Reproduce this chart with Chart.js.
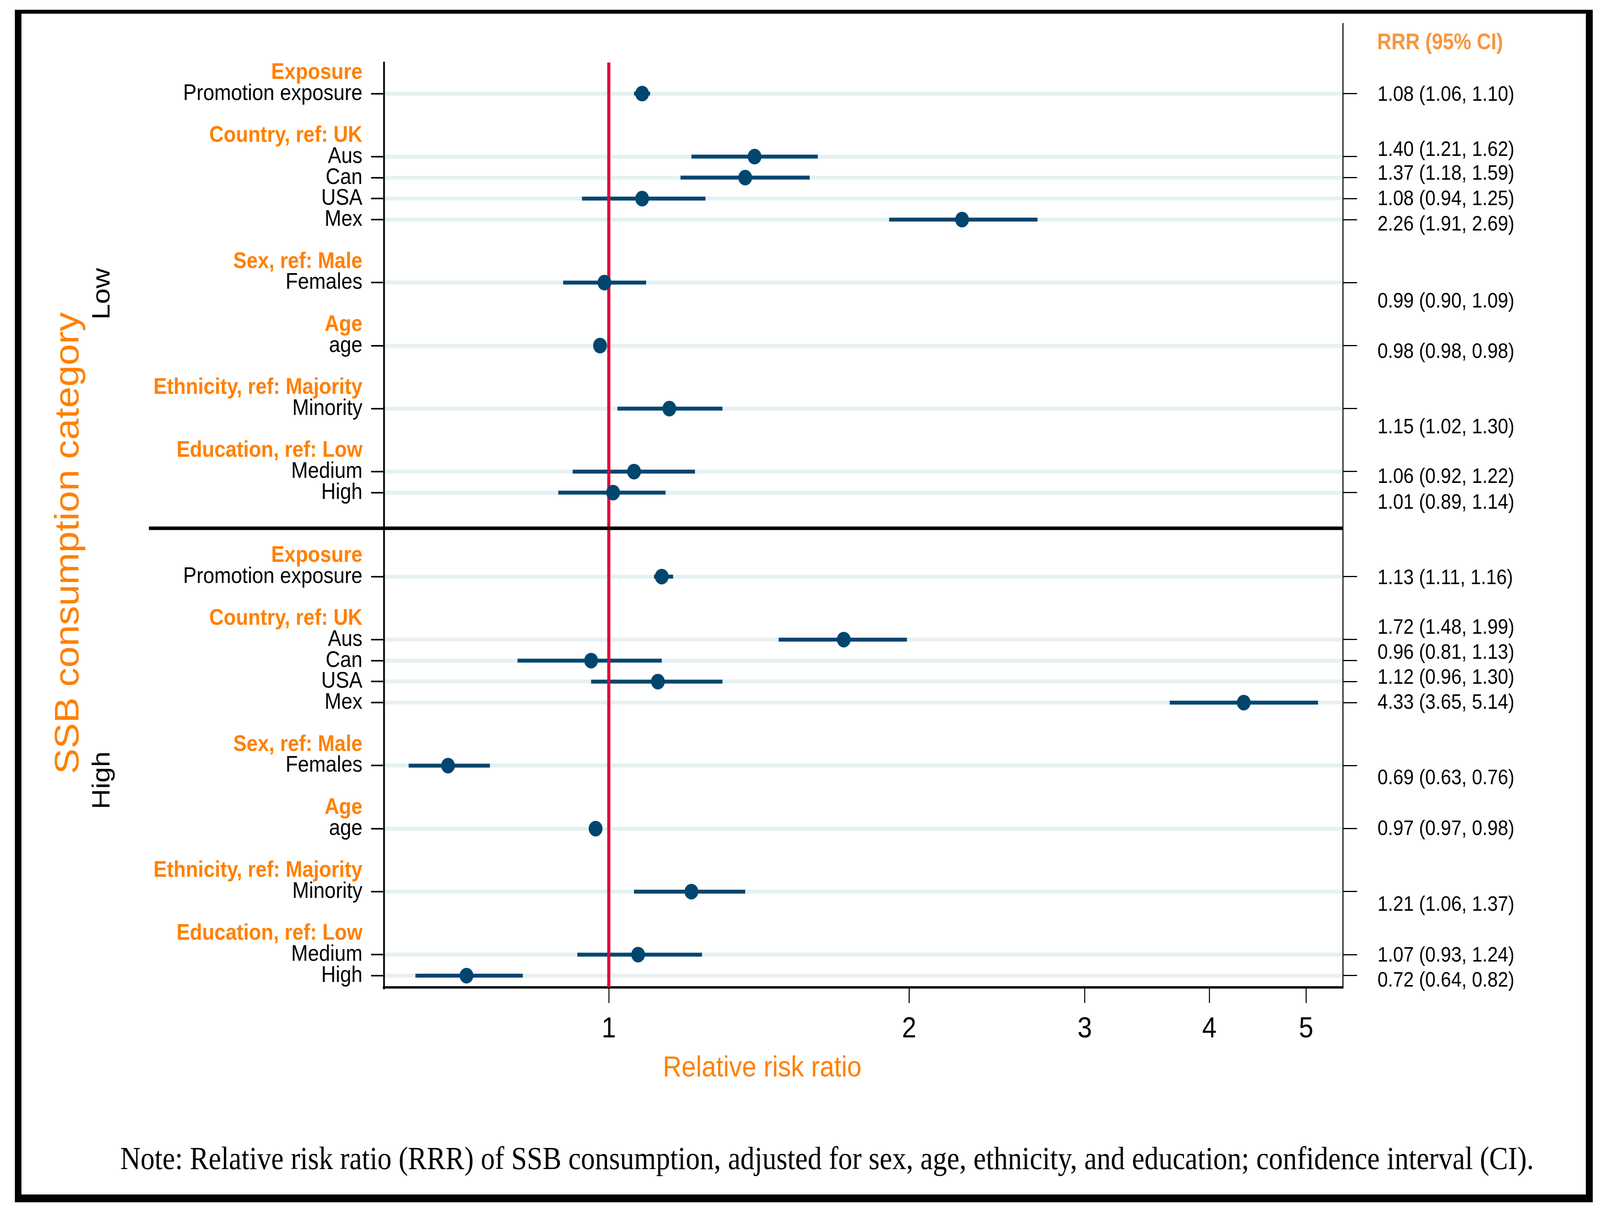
<!DOCTYPE html>
<html>
<head>
<meta charset="utf-8">
<script src="https://cdn.jsdelivr.net/npm/chart.js@4.4.0/dist/chart.umd.min.js"></script>
<style>
  html, body { margin: 0; padding: 0; background: #fff; overflow: hidden; }
  canvas { display: block; width: 100vw !important; height: 100vh !important; }
</style>
</head>
<body>
<canvas id="forest" width="4631" height="3107"></canvas>
<script>
// Variable groups and terms, in plotting order
const groups = ['Exposure', 'Country, ref: UK', 'Sex, ref: Male', 'Age', 'Ethnicity, ref: Majority', 'Education, ref: Low']
const terms = ['Promotion exposure', 'Aus', 'Can', 'USA', 'Mex', 'Females', 'age', 'Minority', 'Medium', 'High']
const termGroup = [0, 1, 1, 1, 1, 2, 3, 4, 5, 5]
const panels = ['Low', 'High']

// RRR and 95% CI, low then high SSB consumption
const lowRRR = [1.08, 1.40, 1.37, 1.08, 2.26, 0.99, 0.98, 1.15, 1.06, 1.01]
const lowLower = [1.06, 1.21, 1.18, 0.94, 1.91, 0.90, 0.98, 1.02, 0.92, 0.89]
const lowUpper = [1.10, 1.62, 1.59, 1.25, 2.69, 1.09, 0.98, 1.30, 1.22, 1.14]
const highRRR = [1.13, 1.72, 0.96, 1.12, 4.33, 0.69, 0.97, 1.21, 1.07, 0.72]
const highLower = [1.11, 1.48, 0.81, 0.96, 3.65, 0.63, 0.97, 1.06, 0.93, 0.64]
const highUpper = [1.16, 1.99, 1.13, 1.30, 5.14, 0.76, 0.98, 1.37, 1.24, 0.82]

const xTicks = [1, 2, 3, 4, 5]

// where the RRR (CI) text sits, relative to its row (as in the original)
const ciTextShift = [0.07, -0.31, -0.18, 0.03, 0.24, 0.9, 0.3, 0.9, 0.26, 0.49,
  0.08, -0.56, -0.37, -0.17, 0.02, 0.6, 0.03, 0.63, 0.05, 0.24]

const NAVY = '#00466F'
const ORANGE = '#FF8000'
const RED = '#E2003C'
const GRID = '#E6F1F1'

// Build row positions: header, terms, blank line; two blank lines between panels
const rowLabels = {}
const estRows = []
let r = 0
panels.forEach(function () {
  groups.forEach(function (g, gi) {
    rowLabels[r] = { text: g, header: true }
    r++
    terms.forEach(function (t, ti) {
      if (termGroup[ti] === gi) {
        rowLabels[r] = { text: t, header: false }
        estRows.push(r)
        r++
      }
    })
    r++
  })
  r++
})
const allRows = Object.keys(rowLabels).map(Number)
const dividerRow = 21.7
const yMin = -0.48
const yMax = 43.56

const est = lowRRR.concat(highRRR)
const lower = lowLower.concat(highLower)
const upper = lowUpper.concat(highUpper)

function isHeader (c) {
  if (!c || !c.tick) return false
  const lab = rowLabels[c.tick.value]
  return !!(lab && lab.header)
}

const datasets = [{
  type: 'scatter',
  label: 'RRR',
  data: est.map(function (v, i) { return { x: v, y: estRows[i] } }),
  pointRadius: 20,
  pointHoverRadius: 20,
  pointBackgroundColor: NAVY,
  pointBorderWidth: 0,
  order: 1
}]
est.forEach(function (v, i) {
  datasets.push({
    type: 'line',
    data: [{ x: lower[i], y: estRows[i] }, { x: upper[i], y: estRows[i] }],
    borderColor: NAVY,
    borderWidth: 10,
    borderCapStyle: 'butt',
    pointRadius: 0,
    fill: false,
    order: 2
  })
})

function rotatedText (ctx, text, x, y, font, color) {
  ctx.save()
  ctx.translate(x, y)
  ctx.rotate(-Math.PI / 2)
  ctx.font = font
  ctx.fillStyle = color
  ctx.textAlign = 'center'
  ctx.textBaseline = 'alphabetic'
  ctx.fillText(text, 0, 0)
  ctx.restore()
}

const decor = {
  id: 'decor',
  beforeDraw (chart) {
    const ctx = chart.ctx
    ctx.save()
    ctx.fillStyle = '#fff'
    ctx.fillRect(0, 0, chart.width, chart.height)
    ctx.restore()
  },
  beforeDatasetDraw (chart, args) {
    // reference line at RRR = 1, under the markers
    if (args.index !== 0) return
    const ctx = chart.ctx
    const a = chart.chartArea
    const x = chart.scales.x.getPixelForValue(1)
    ctx.save()
    ctx.strokeStyle = RED
    ctx.lineWidth = 9
    ctx.beginPath()
    ctx.moveTo(x, a.top)
    ctx.lineTo(x, a.bottom)
    ctx.stroke()
    ctx.restore()
  },
  afterDraw (chart) {
    const ctx = chart.ctx
    const a = chart.chartArea
    const y = chart.scales.y
    ctx.save()

    // divider between panels
    ctx.strokeStyle = '#000'
    ctx.lineWidth = 9
    ctx.beginPath()
    ctx.moveTo(431, y.getPixelForValue(dividerRow))
    ctx.lineTo(a.right, y.getPixelForValue(dividerRow))
    ctx.stroke()

    // right axis line
    ctx.lineWidth = 3
    ctx.beginPath()
    ctx.moveTo(a.right + 1, 59)
    ctx.lineTo(a.right + 1, a.bottom + 3)
    ctx.stroke()

    // RRR (95% CI) column
    ctx.textAlign = 'left'
    ctx.textBaseline = 'middle'
    ctx.fillStyle = '#F7963F'
    ctx.font = 'bold 57px "Liberation Sans", Arial, sans-serif'
    ctx.fillText('RRR (95% CI)', 3986, 110)
    ctx.fillStyle = '#000'
    ctx.font = '54px "Liberation Sans", Arial, sans-serif'
    est.forEach(function (v, i) {
      const txt = v.toFixed(2) + ' (' + lower[i].toFixed(2) + ', ' + upper[i].toFixed(2) + ')'
      ctx.fillText(txt, 3987, y.getPixelForValue(estRows[i] + ciTextShift[i]))
    })

    // vertical titles
    rotatedText(ctx, 'SSB consumption category', 227, 1390, '98px "Liberation Sans", Arial, sans-serif', ORANGE)
    rotatedText(ctx, panels[0], 317, 752, '72px "Liberation Sans", Arial, sans-serif', '#000')
    rotatedText(ctx, panels[1], 317, 1997, '72px "Liberation Sans", Arial, sans-serif', '#000')

    // x axis title
    ctx.textAlign = 'center'
    ctx.textBaseline = 'alphabetic'
    ctx.fillStyle = ORANGE
    ctx.font = '75px "Liberation Sans", Arial, sans-serif'
    ctx.fillText('Relative risk ratio', 2206, 2755)

    // note, sized to the original width
    const note = 'Note: Relative risk ratio (RRR) of SSB consumption, adjusted for sex, age, ethnicity, and education; confidence interval (CI).'
    ctx.font = '80px "Liberation Serif", "Times New Roman", serif'
    const size = 80 * 4091 / ctx.measureText(note).width
    ctx.font = size.toFixed(1) + 'px "Liberation Serif", "Times New Roman", serif'
    ctx.textAlign = 'left'
    ctx.fillStyle = '#000'
    ctx.fillText(note, 348, 2992)

    // frame
    ctx.fillStyle = '#000'
    ctx.fillRect(43, 25, 19, 3052)
    ctx.fillRect(43, 25, 4567, 10)
    ctx.fillRect(4590, 25, 20, 3052)
    ctx.fillRect(43, 3057, 4567, 20)
    ctx.restore()
  }
}

Chart.defaults.font.family = '"Liberation Sans", Arial, sans-serif'

new Chart(document.getElementById('forest'), {
  type: 'scatter',
  data: { datasets: datasets },
  plugins: [decor],
  options: {
    responsive: false,
    devicePixelRatio: 1,
    animation: false,
    events: [],
    layout: { padding: { top: 160, left: 0, right: 0, bottom: 0 } },
    plugins: {
      legend: { display: false },
      tooltip: { enabled: false }
    },
    scales: {
      x: {
        type: 'logarithmic',
        position: 'bottom',
        min: 0.595,
        max: 5.44,
        afterBuildTicks: function (s) { s.ticks = xTicks.map(function (v) { return { value: v } }) },
        afterFit: function (s) { s.height = 580 },
        grid: { drawOnChartArea: false, tickLength: 40, tickWidth: 3, tickColor: '#000' },
        border: { color: '#000', width: 6 },
        ticks: {
          color: '#000',
          font: { size: 75 },
          padding: 22,
          autoSkip: false,
          maxRotation: 0,
          callback: function (v) { return String(v) }
        }
      },
      y: {
        type: 'linear',
        position: 'left',
        reverse: true,
        min: yMin,
        max: yMax,
        afterBuildTicks: function (s) { s.ticks = allRows.map(function (v) { return { value: v } }) },
        afterFit: function (s) { s.width = 1111 },
        grid: {
          color: function (c) { return isHeader(c) ? 'rgba(0,0,0,0)' : GRID },
          lineWidth: 10,
          tickLength: 37,
          tickWidth: 4,
          tickColor: function (c) { return isHeader(c) ? 'rgba(0,0,0,0)' : '#000' }
        },
        border: { color: '#000', width: 5 },
        ticks: {
          autoSkip: false,
          padding: 25,
          color: function (c) { return isHeader(c) ? ORANGE : '#000' },
          font: function (c) { return { size: 58, weight: isHeader(c) ? 'bold' : 'normal' } },
          callback: function (v) { return rowLabels[v] ? rowLabels[v].text : '' }
        }
      },
      y2: {
        type: 'linear',
        position: 'right',
        reverse: true,
        min: yMin,
        max: yMax,
        afterBuildTicks: function (s) { s.ticks = estRows.map(function (v) { return { value: v } }) },
        afterFit: function (s) { s.width = 745 },
        grid: { drawOnChartArea: false, tickLength: 42, tickWidth: 3, tickColor: '#000' },
        border: { display: false },
        ticks: { display: false }
      }
    }
  }
})
</script>
</body>
</html>
